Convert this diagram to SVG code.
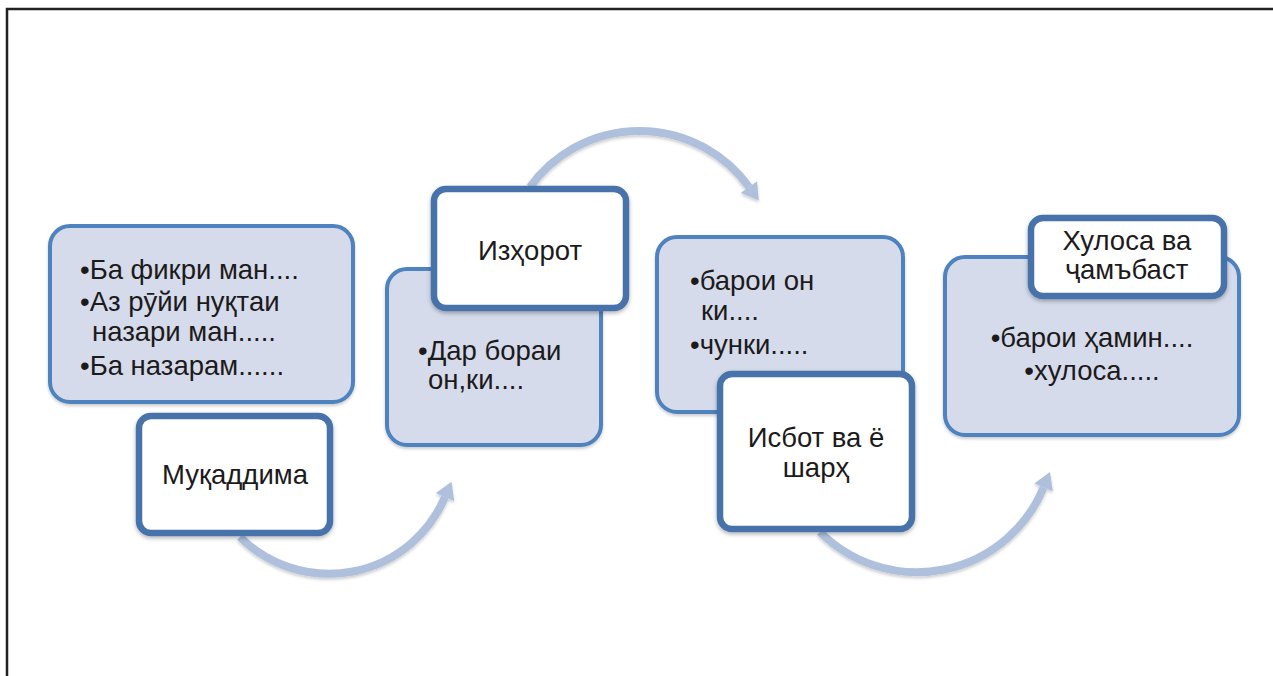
<svg xmlns="http://www.w3.org/2000/svg" width="1273" height="676" viewBox="0 0 1273 676">
<style>
.frame{fill:none;stroke:#231f20;stroke-width:2.5}
.panel{fill:#d5dbea;stroke:#5083bf;stroke-width:4}
.label{fill:#ffffff;stroke:#4673aa;stroke-width:6.5}
.arc{fill:none;stroke:#afc0dc;stroke-width:8}
text{font-family:"Liberation Sans",Arial,"DejaVu Sans",sans-serif;font-size:27.5px;fill:#1c1a1b}
.c{text-anchor:middle}
</style>
<defs>
<filter id="sh" x="-20%" y="-20%" width="140%" height="150%">
<feDropShadow dx="0" dy="2" stdDeviation="2" flood-color="#000" flood-opacity="0.3"/>
</filter>
<filter id="sha" x="-20%" y="-20%" width="140%" height="150%">
<feDropShadow dx="0" dy="2" stdDeviation="1.5" flood-color="#000" flood-opacity="0.2"/>
</filter>
<marker id="ah" markerUnits="userSpaceOnUse" markerWidth="20" markerHeight="20" refX="0" refY="9" orient="auto" viewBox="0 0 16 18">
<path d="M0,0 L15,9 L0,18 Z" fill="#afc0dc"/>
</marker>
</defs>
<path class="frame" d="M7,676 L7,9 L1273,9"/>
<g id="connectors" filter="url(#sha)">
<path class="arc" d="M240,537 A126,126 0 0 0 445,497" marker-end="url(#ah)"/>
<path class="arc" d="M530,187 A135,135 0 0 1 749,187" marker-end="url(#ah)"/>
<path class="arc" d="M820,532 A137,137 0 0 0 1043.6,487.4" marker-end="url(#ah)"/>
</g>
<g id="node1">
<rect class="panel" x="50" y="226" width="303" height="176" rx="20" filter="url(#sha)"/>
<text x="80" y="279">•Ба фикри ман....</text>
<text x="80" y="311">•Аз рӯйи нуқтаи</text>
<text x="92" y="341">назари ман.....</text>
<text x="80" y="375">•Ба назарам......</text>
<rect class="label" x="139" y="416" width="191" height="117" rx="12" filter="url(#sh)"/>
<text class="c" x="235" y="484">Муқаддима</text>
</g>
<g id="node2">
<rect class="panel" x="387" y="269" width="214" height="176" rx="20" filter="url(#sha)"/>
<text x="418" y="360">•Дар бораи</text>
<text x="428" y="389">он,ки....</text>
<rect class="label" x="434" y="189" width="192" height="119" rx="12" filter="url(#sh)"/>
<text class="c" x="530" y="260">Изҳорот</text>
</g>
<g id="node3">
<rect class="panel" x="657" y="237" width="246" height="175" rx="20" filter="url(#sha)"/>
<text x="690" y="290">•барои он</text>
<text x="701" y="320">ки....</text>
<text x="690" y="354">•чунки.....</text>
<rect class="label" x="720" y="374" width="192" height="155" rx="12" filter="url(#sh)"/>
<text class="c" x="816" y="447">Исбот ва ё</text>
<text class="c" x="816" y="477">шарҳ</text>
</g>
<g id="node4">
<rect class="panel" x="945" y="257" width="294" height="178" rx="20" filter="url(#sha)"/>
<text class="c" x="1092" y="347">•барои ҳамин....</text>
<text class="c" x="1092" y="380">•хулоса.....</text>
<rect class="label" x="1031" y="218" width="193" height="78" rx="12" filter="url(#sh)"/>
<text class="c" x="1127" y="250">Хулоса ва</text>
<text class="c" x="1127" y="279">ҷамъбаст</text>
</g>
</svg>
